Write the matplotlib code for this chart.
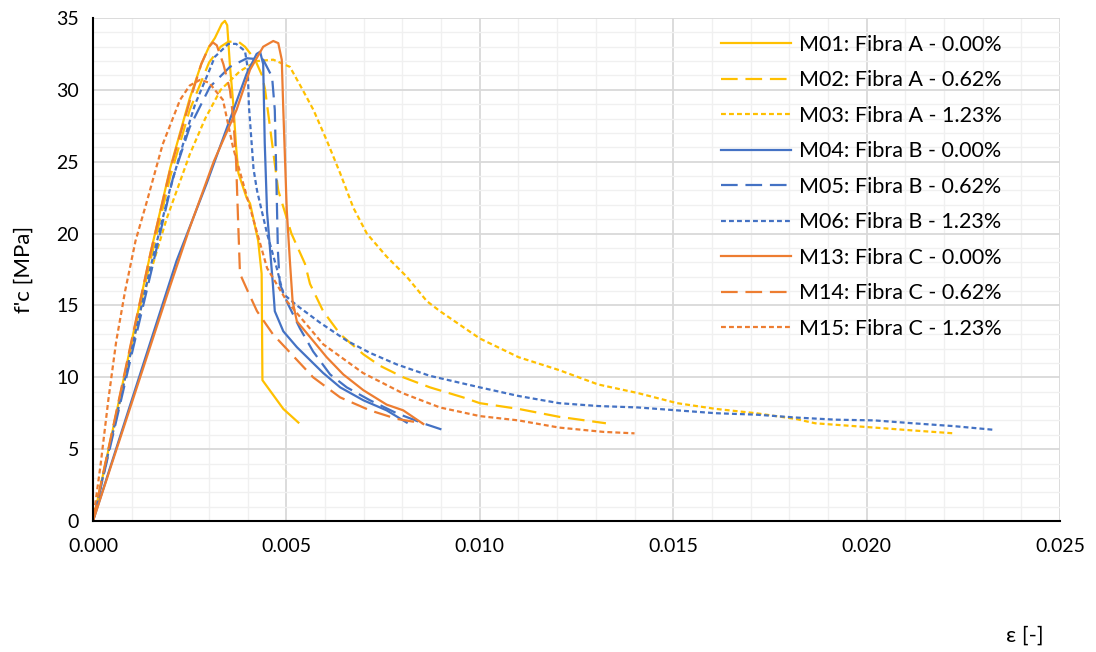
import matplotlib
matplotlib.use("Agg")
import matplotlib.pyplot as plt
from matplotlib.ticker import MultipleLocator, FormatStrFormatter

# ---- data (strain [-], stress [MPa]) ----
m01_x = [0, 0.0005, 0.001, 0.0015, 0.002, 0.0025, 0.0028, 0.0030, 0.00315, 0.00333, 0.00341, 0.00347,
         0.00354, 0.00363, 0.00370, 0.00376, 0.00397, 0.00406, 0.00427, 0.00436, 0.00438, 0.00492, 0.00531]
m01_y = [0, 6.2, 12.5, 18.8, 24.6, 29.4, 31.8, 33.0, 33.6, 34.6, 34.8, 34.5,
         31.7, 28.9, 26.0, 24.2, 22.5, 22.1, 19.5, 17.2, 9.8, 7.8, 6.85]

m02_x = [0, 0.0005, 0.001, 0.0015, 0.002, 0.0025, 0.0030, 0.0033, 0.0035, 0.00376, 0.00393, 0.00419,
         0.00437, 0.00445, 0.00462, 0.00479, 0.00513, 0.00548, 0.00561, 0.00595, 0.00639, 0.00699,
         0.00742, 0.00802, 0.00871, 0.00957, 0.0100, 0.0110, 0.01205, 0.01326]
m02_y = [0, 6.2, 12.3, 18.3, 24.0, 28.6, 31.9, 33.0, 33.35, 33.35, 33.0, 32.1,
         31.0, 30.0, 26.5, 23.0, 20.0, 17.9, 16.5, 14.6, 13.0, 11.6,
         10.8, 10.0, 9.3, 8.6, 8.2, 7.8, 7.25, 6.8]

m03_x = [0, 0.0005, 0.001, 0.00134, 0.0019, 0.0025, 0.0029, 0.0033, 0.0038, 0.00423, 0.00466, 0.00509,
         0.0054, 0.0057, 0.00604, 0.00639, 0.00673, 0.00708, 0.00759, 0.00811, 0.00863, 0.00897,
         0.0100, 0.0110, 0.01205, 0.01306, 0.01409, 0.0151, 0.0161, 0.01714, 0.01817, 0.01867,
         0.0202, 0.0212, 0.02226]
m03_y = [0, 6.0, 12.0, 16.0, 21.0, 25.5, 28.0, 30.0, 31.3, 32.0, 32.1, 31.6,
         30.1, 28.6, 26.5, 24.2, 21.8, 20.0, 18.4, 17.0, 15.3, 14.6,
         12.7, 11.4, 10.5, 9.5, 8.9, 8.2, 7.8, 7.5, 7.1, 6.8,
         6.5, 6.3, 6.1]

m04_x = [0, 0.001, 0.00216, 0.00294, 0.00363, 0.00397, 0.00423, 0.00432, 0.0044, 0.00444, 0.00450,
         0.00458, 0.00465, 0.0047, 0.00492, 0.00527, 0.00561, 0.00595, 0.00639, 0.00699, 0.00759, 0.00811]
m04_y = [0, 8.4, 18.1, 23.5, 28.6, 31.1, 32.5, 32.65, 31.8, 26.3, 21.5,
         18.8, 16.5, 14.6, 13.2, 12.1, 11.2, 10.3, 9.3, 8.4, 7.7, 6.85]

m05_x = [0, 0.0005, 0.001, 0.0015, 0.00207, 0.0025, 0.00302, 0.00354, 0.00398, 0.0044, 0.00463,
         0.00470, 0.00474, 0.00478, 0.00483, 0.00504, 0.00535, 0.00569, 0.00613, 0.00656, 0.00716,
         0.00785, 0.00853, 0.0092]
m05_y = [0, 5.8, 11.6, 17.3, 23.9, 27.4, 30.2, 31.6, 32.2, 32.1, 30.9,
         28.6, 23.9, 18.8, 16.5, 15.1, 13.4, 11.8, 10.2, 9.3, 8.4,
         7.5, 6.8, 6.2]

m06_x = [0, 0.0005, 0.001, 0.0015, 0.002, 0.0025, 0.00264, 0.0030, 0.00315, 0.0035, 0.0037, 0.00393,
         0.00400, 0.00403, 0.00415, 0.00424, 0.0045, 0.00475, 0.00492, 0.00527, 0.00587, 0.00656,
         0.00716, 0.00785, 0.00871, 0.0100, 0.0110, 0.01205, 0.01306, 0.01409, 0.0161, 0.01714,
         0.01817, 0.0192, 0.0202, 0.0212, 0.02226, 0.02327]
m06_y = [0, 6.0, 12.0, 17.8, 23.2, 27.8, 29.0, 31.3, 32.3, 33.2, 33.2, 32.7,
         31.5, 28.9, 24.5, 23.0, 20.0, 17.6, 15.8, 15.0, 13.8, 12.55,
         11.7, 10.9, 10.1, 9.3, 8.7, 8.2, 8.0, 7.9, 7.5, 7.4,
         7.2, 7.05, 7.0, 6.8, 6.6, 6.35]

m13_x = [0, 0.001, 0.00195, 0.0025, 0.00312, 0.00371, 0.00406, 0.0044, 0.00466, 0.00479, 0.00488,
         0.00492, 0.00501, 0.00509, 0.00516, 0.00527, 0.00561, 0.00604, 0.00647, 0.00699, 0.00759,
         0.00802, 0.00854]
m13_y = [0, 8.2, 16.0, 20.4, 25.0, 28.6, 31.4, 33.0, 33.4, 33.25, 32.1,
         28.6, 21.6, 18.1, 15.3, 13.9, 12.8, 11.4, 10.2, 9.1, 8.1,
         7.7, 6.75]

m14_x = [0, 0.0005, 0.001, 0.0015, 0.002, 0.0025, 0.0028, 0.0030, 0.0031, 0.0032, 0.00337, 0.00354,
         0.00363, 0.00370, 0.00375, 0.00380, 0.00400, 0.00424, 0.00465, 0.00569, 0.00639, 0.00716,
         0.00786, 0.00853]
m14_y = [0, 6.3, 12.6, 18.8, 24.5, 29.2, 31.8, 33.0, 33.3, 33.1, 31.8, 30.0,
         27.9, 25.0, 21.0, 17.2, 16.0, 14.6, 13.0, 10.0, 8.6, 7.7,
         7.1, 6.8]

m15_x = [0, 0.0002, 0.0004, 0.0006, 0.00083, 0.0011, 0.0014, 0.0018, 0.00225, 0.0025, 0.00277, 0.0030,
         0.00336, 0.00362, 0.00406, 0.0045, 0.00501, 0.00595, 0.00698, 0.0080, 0.00897, 0.0100,
         0.0110, 0.01205, 0.0132, 0.0140]
m15_y = [0, 4.0, 8.5, 12.5, 16.0, 19.5, 22.3, 26.2, 29.3, 30.3, 30.7, 30.5,
         29.3, 26.0, 21.8, 17.6, 15.3, 12.3, 10.3, 8.9, 7.9, 7.3,
         7.0, 6.5, 6.2, 6.1]

labels = ["M01: Fibra A - 0.00%", "M02: Fibra A - 0.62%", "M03: Fibra A - 1.23%",
          "M04: Fibra B - 0.00%", "M05: Fibra B - 0.62%", "M06: Fibra B - 1.23%",
          "M13: Fibra C - 0.00%", "M14: Fibra C - 0.62%", "M15: Fibra C - 1.23%"]

series = [(m01_x, m01_y), (m02_x, m02_y), (m03_x, m03_y),
          (m04_x, m04_y), (m05_x, m05_y), (m06_x, m06_y),
          (m13_x, m13_y), (m14_x, m14_y), (m15_x, m15_y)]

YELLOW, BLUE, ORANGE = "#FFC000", "#4472C4", "#ED7D31"
colors = [YELLOW] * 3 + [BLUE] * 3 + [ORANGE] * 3
solid = "-"
longdash = (0, (7.5, 3.5))
shortdash = (0, (2.2, 1.4))
styles = [solid, longdash, shortdash] * 3

plt.rcParams["font.family"] = ["Lato", "DejaVu Sans"]

fig = plt.figure(figsize=(10.96, 6.52), dpi=100)
ax = fig.add_axes([93 / 1096, 131 / 652, 967 / 1096, 503 / 652])

for (x, y), c, ls, lab in zip(series, colors, styles, labels):
    ax.plot(x, y, color=c, linestyle=ls, linewidth=1.6, label=lab)

ax.set_xlim(0, 0.025)
ax.set_ylim(0, 35)
ax.xaxis.set_major_locator(MultipleLocator(0.005))
ax.xaxis.set_minor_locator(MultipleLocator(0.001))
ax.yaxis.set_major_locator(MultipleLocator(5))
ax.yaxis.set_minor_locator(MultipleLocator(1))
ax.xaxis.set_major_formatter(FormatStrFormatter("%.3f"))
ax.grid(which="major", color="#D9D9D9", linewidth=1.3)
ax.grid(which="minor", color="#F0F0F0", linewidth=1.0)
ax.set_axisbelow(True)
ax.tick_params(which="both", length=0, labelsize=14, colors="#000000")
ax.tick_params(axis="x", pad=12)
ax.tick_params(axis="y", pad=10)
for s in ["top", "right"]:
    ax.spines[s].set_visible(False)
for s in ["left", "bottom"]:
    ax.spines[s].set_color("black")
    ax.spines[s].set_linewidth(1.5)

ax.set_ylabel("f'c [MPa]", fontsize=16)
ax.yaxis.set_label_coords(-0.061, 0.5)
fig.text(1025 / 1096, 1 - 636 / 652, "ε [-]", fontsize=16, ha="center", va="center")

leg = ax.legend(loc="upper left", bbox_to_anchor=(0.641, 0.984), frameon=False,
                fontsize=15.5, handlelength=3.25, handletextpad=0.33, labelspacing=0.72,
                borderaxespad=0.0)

fig.savefig("out.png", dpi=100)
